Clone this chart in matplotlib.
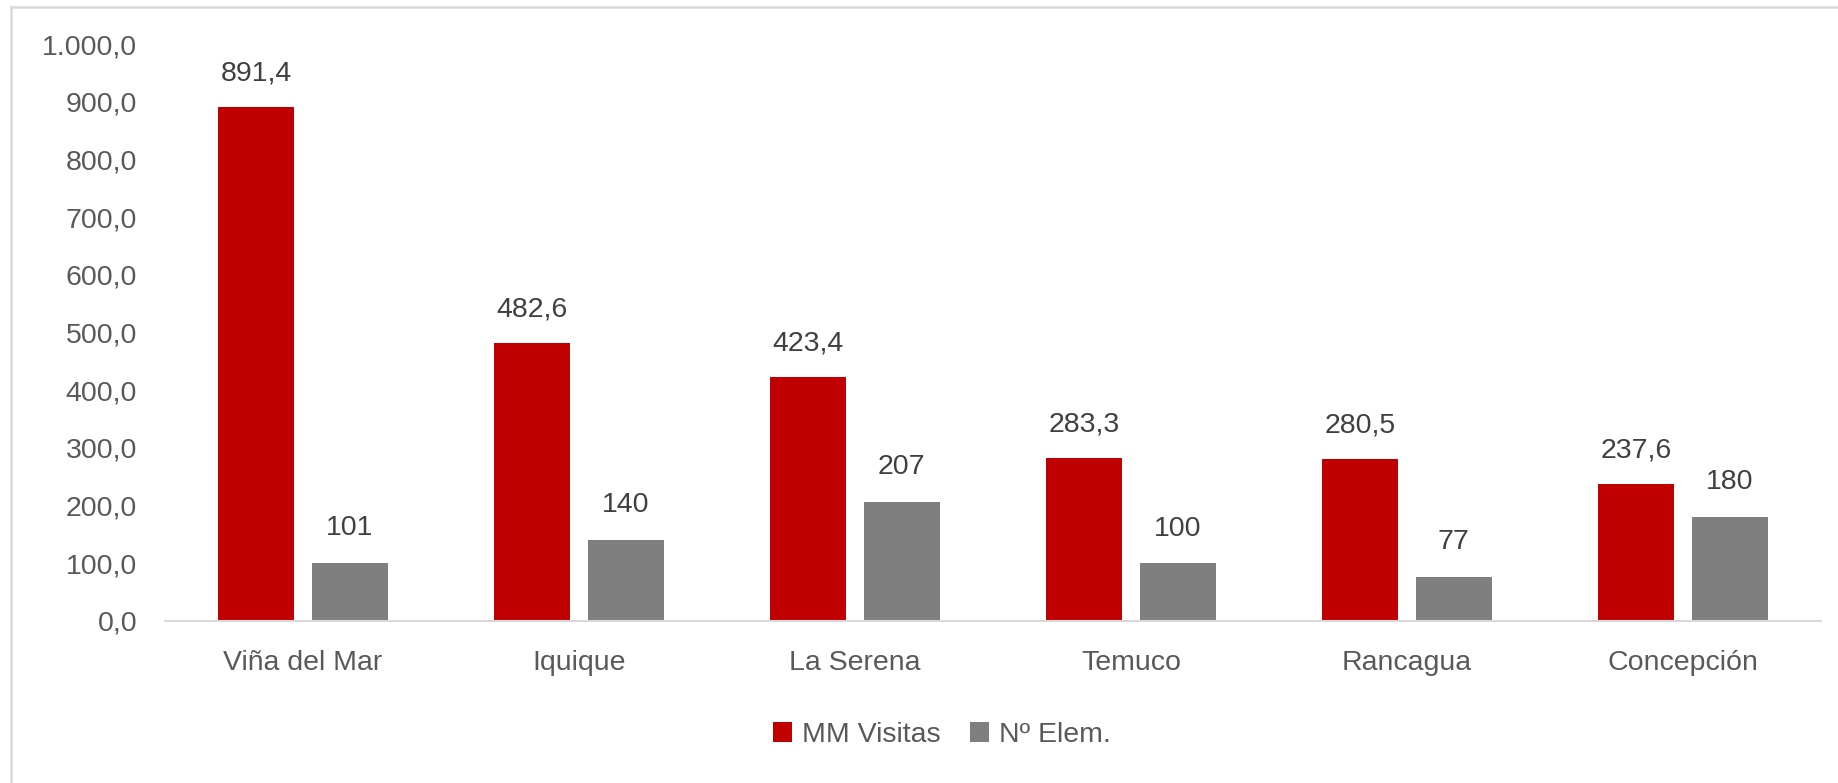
import numpy as np
import matplotlib
matplotlib.use('agg')
import matplotlib.pyplot as plt
from matplotlib.lines import Line2D

# data
ciudades  = ["Viña del Mar", "Iquique", "La Serena", "Temuco", "Rancagua", "Concepción"]
visitas   = [891.4, 482.6, 423.4, 283.3, 280.5, 237.6]     # MM Visitas
elementos = [101, 140, 207, 100, 77, 180]                  # Nº Elem.
yticks    = [0, 100, 200, 300, 400, 500, 600, 700, 800, 900, 1000]

red   = '#C00000'
gray  = '#7F7F7F'
txt   = '#595959'
lgray = '#D9D9D9'
fs    = 20.5

plt.rcParams['font.family'] = ['Liberation Sans', 'DejaVu Sans']

def es_num(v, dec=1):
    s = f"{v:,.{dec}f}"
    return s.replace(",", "X").replace(".", ",").replace("X", ".")

fig = plt.figure(figsize=(18.38, 7.83), dpi=100)
ax = fig.add_axes([165/1838, 1 - 621/783, (1821 - 165)/1838, (621 - 44)/783])

x = np.arange(len(ciudades))
w   = 0.276
off = 0.169
b1 = ax.bar(x - off, visitas, w, color=red, label='MM Visitas')
b2 = ax.bar(x + off, elementos, w, color=gray, label='Nº Elem.')

for xi, v in zip(x - off, visitas):
    ax.annotate(es_num(v), (xi, v), xytext=(0, 24), textcoords='offset points',
                ha='center', va='center', fontsize=fs, color='#404040')
for xi, v in zip(x + off, elementos):
    ax.annotate(f"{v}", (xi, v), xytext=(0, 25), textcoords='offset points',
                ha='center', va='center', fontsize=fs, color='#404040')

ax.set_xlim(-0.5, len(ciudades) - 0.5)
ax.set_ylim(0, 1000)
ax.set_yticks(yticks)
ax.set_yticklabels([es_num(t) for t in yticks])
ax.set_xticks(x)
ax.set_xticklabels(ciudades)
ax.tick_params(axis='y', length=0, pad=20, labelsize=fs, labelcolor=txt)
ax.tick_params(axis='x', length=0, pad=21, labelsize=fs, labelcolor=txt)

for s in ['top', 'right', 'left']:
    ax.spines[s].set_visible(False)
ax.spines['bottom'].set_color(lgray)
ax.spines['bottom'].set_linewidth(1.5)

fig.legend(handles=[b1, b2], loc='center', bbox_to_anchor=(942/1838, 1 - 735/783),
           ncol=2, frameon=False, fontsize=fs, labelcolor=txt,
           handlelength=0.67, handleheight=0.67, handletextpad=0.35, columnspacing=1.05)

# outer chart border (only top and left visible in the crop)
fig.add_artist(Line2D([11/1838, 1.0], [1 - 7/783, 1 - 7/783], transform=fig.transFigure,
                      color=lgray, lw=1.8))
fig.add_artist(Line2D([11/1838, 11/1838], [0.0, 1 - 7/783], transform=fig.transFigure,
                      color=lgray, lw=1.8))

fig.savefig('out.png', dpi=100)
